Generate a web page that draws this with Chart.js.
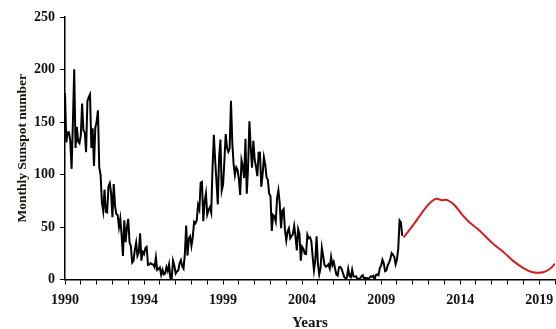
<!DOCTYPE html>
<html>
<head>
<meta charset="utf-8">
<script src="https://cdn.jsdelivr.net/npm/chart.js@4/dist/chart.umd.min.js"></script>
<style>
  html, body { margin: 0; padding: 0; background: #fff; }
  #wrap { width: 556px; height: 329px; position: relative; }
</style>
</head>
<body>
<div id="wrap"><canvas id="c"></canvas></div>
<script>
// Observed monthly mean sunspot number, one value per month from January 1990
const observed1990 = [177.3,130.5,140.3,140.3,132.2,105.4,149.4,200.3,125.2,145.5,131.4,129.7];
const observed1991 = [136.9,167.5,141.9,140.0,121.3,169.7,173.7,176.3,125.3,144.1,108.2,144.4];
const observed1992 = [150.0,161.1,106.7,99.8,73.6,65.2,85.7,64.5,63.9,88.7,91.8,82.6];
const observed1993 = [59.3,91.0,69.8,62.2,61.3,49.8,57.9,42.2,22.4,56.4,35.6,48.9];
const observed1994 = [57.8,35.5,31.7,16.1,17.8,28.0,35.1,22.5,25.7,44.0,18.0,26.2];
const observed1995 = [24.2,29.9,31.1,14.0,14.5,15.6,14.5,14.3,11.8,21.1,9.0,10.0];
const observed1996 = [11.5,4.4,9.2,4.8,5.5,11.8,8.2,14.4,1.6,0.9,17.9,13.3];
const observed1997 = [5.7,7.6,8.7,15.5,18.5,12.7,10.4,24.4,51.3,22.8,39.0,41.2];
const observed1998 = [31.9,40.3,54.8,53.4,56.3,70.7,66.6,92.2,92.9,55.5,74.0,81.9];
const observed1999 = [62.0,66.3,68.8,63.7,106.4,137.7,113.5,93.7,71.5,116.7,133.2,84.6];
const observed2000 = [90.1,112.9,138.5,125.5,121.6,124.9,170.1,130.5,109.7,99.4,106.8,104.4];
const observed2001 = [95.6,80.6,113.5,107.7,96.6,134.0,81.8,106.4,150.7,125.5,106.5,132.2];
const observed2002 = [114.1,107.4,98.4,120.7,120.8,88.3,99.6,116.4,109.6,97.5,95.0,81.6];
const observed2003 = [79.5,46.2,61.5,60.0,55.2,77.4,85.0,72.7,48.8,65.6,67.2,47.0];
const observed2004 = [37.2,46.0,48.9,39.3,41.5,43.2,51.1,40.9,27.7,48.0,43.5,17.9];
const observed2005 = [31.3,29.2,24.5,24.2,42.7,39.3,40.1,36.4,21.9,8.7,18.0,41.1];
const observed2006 = [15.3,4.9,10.6,30.2,22.3,13.9,12.2,12.9,14.4,10.5,21.4,13.6];
const observed2007 = [16.9,10.6,4.8,3.7,11.7,12.0,10.0,6.2,2.4,0.9,1.7,10.1];
const observed2008 = [3.3,2.1,9.3,2.9,2.9,3.1,0.5,0.5,1.1,2.9,4.1,0.8];
const observed2009 = [1.5,1.4,0.7,1.2,2.9,2.6,3.5,0.0,4.3,4.8,4.1,10.8];
const observed2010 = [13.2,18.8,15.4,8.0,8.7,13.6,16.1,19.6,25.2,23.5,21.6,14.5];
const observed2011 = [19.0,29.4,56.2,54.4,41.6];

// Predicted sunspot number: month index (months since January 1990) and value
const predictedMonth = [257,265,273,278,282,286,289,292,296,302,307,313,318,325,333,340,348,355,363,368,372];
const predictedValue = [40,53,67,74,77,75.5,76,74.5,70.5,61,54.5,48.5,42.6,34,26,18,10.8,7,7,10,15];

// Axis labels, one per five tick marks (a tick every 12 months)
const yearLabels = ['1990','1994','1999','2004','2009','2014','2019'];
const axisMaxMonth = 372;

const observed = [].concat(
  observed1990, observed1991, observed1992, observed1993, observed1994,
  observed1995, observed1996, observed1997, observed1998, observed1999,
  observed2000, observed2001, observed2002, observed2003, observed2004,
  observed2005, observed2006, observed2007, observed2008, observed2009,
  observed2010, observed2011
);

const observedPoints = observed.map((v, i) => ({ x: i, y: v }));
const predictedPoints = predictedMonth.map((m, i) => ({ x: m, y: predictedValue[i] }));

const serif = '"Liberation Serif", "Times New Roman", serif';
const ink = '#111';

new Chart(document.getElementById('c'), {
  type: 'line',
  data: {
    datasets: [
      { data: observedPoints, borderColor: '#000', borderWidth: 2, pointRadius: 0, tension: 0 },
      { data: predictedPoints, borderColor: '#d31f1f', borderWidth: 2, pointRadius: 0, tension: 0.35 }
    ]
  },
  options: {
    responsive: true,
    maintainAspectRatio: false,
    animation: false,
    devicePixelRatio: 1,
    layout: { padding: { top: 17, right: 1, left: 0, bottom: 0 } },
    plugins: { legend: { display: false }, tooltip: { enabled: false } },
    scales: {
      x: {
        type: 'linear',
        min: 0,
        max: axisMaxMonth,
        afterBuildTicks: (scale) => {
          const t = [];
          for (let m = 0; m <= axisMaxMonth; m += 12) t.push({ value: m });
          scale.ticks = t;
        },
        afterFit: (scale) => { scale.height = 49.5; },
        grid: { display: true, drawOnChartArea: false, drawTicks: true, tickLength: 5, color: '#000', lineWidth: 1 },
        border: { display: true, color: '#000', width: 1.5 },
        ticks: {
          autoSkip: false,
          maxRotation: 0,
          padding: 0,
          color: ink,
          // tall line box keeps the labels clear of the tick marks
          font: { family: serif, size: 14, weight: 'bold', lineHeight: 2.2 },
          callback: (v) => {
            const k = Math.round(v / 12);
            return k % 5 === 0 && yearLabels[k / 5] !== undefined ? yearLabels[k / 5] : '';
          }
        },
        title: {
          display: true,
          text: 'Years',
          color: ink,
          font: { family: serif, size: 15, weight: 'bold', lineHeight: 0.85 },
          padding: { top: 0, bottom: 0 }
        }
      },
      y: {
        min: 0,
        max: 250,
        ticks: {
          stepSize: 50,
          padding: 5,
          color: ink,
          font: { family: serif, size: 14, weight: 'bold' }
        },
        afterFit: (scale) => { scale.width = 65; },
        grid: { display: true, drawOnChartArea: false, drawTicks: true, tickLength: 5, color: '#000', lineWidth: 1 },
        border: { display: true, color: '#000', width: 1.5 },
        title: {
          display: true,
          text: 'Monthly Sunspot number',
          color: '#1a1208',
          font: { family: serif, size: 13.5, weight: 'bold', lineHeight: 1.2 },
          padding: { top: 14, bottom: 0 }
        }
      }
    }
  }
});
</script>
</body>
</html>
